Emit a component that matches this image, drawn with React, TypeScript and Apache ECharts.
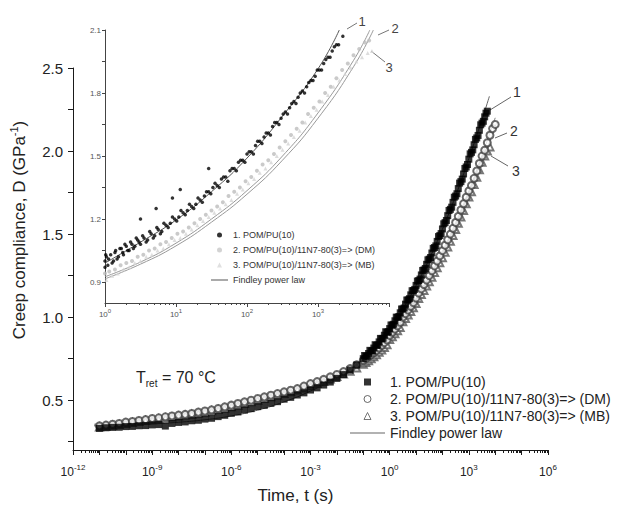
import React, { useEffect, useRef } from 'react';
import * as echarts from 'echarts';

const FONT = '"Liberation Sans", Arial, Helvetica, sans-serif';

const N1 = '1. POM/PU(10)';
const N2 = '2. POM/PU(10)/11N7-80(3)=> (DM)';
const N3 = '3. POM/PU(10)/11N7-80(3)=> (MB)';
const NF = 'Findley power law';

// ---- axis ticks / labels ----
const mainXLabelExps = [-12, -9, -6, -3, 0, 3, 6];
const mainXDecadeExps = [-12, -11, -10, -9, -8, -7, -6, -5, -4, -3, -2, -1, 0, 1, 2, 3, 4, 5, 6];
const mainYLabels = [0.5, 1.0, 1.5, 2.0, 2.5];
const mainYTicks = [0.25, 0.5, 0.75, 1.0, 1.25, 1.5, 1.75, 2.0, 2.25, 2.5];
const insetXLabelExps = [0, 1, 2, 3];
const insetXDecadeExps = [0, 1, 2, 3, 4];
const insetYLabels = [0.9, 1.2, 1.5, 1.8, 2.1];
const insetYTicks = [0.9, 1.05, 1.2, 1.35, 1.5, 1.65, 1.8, 1.95, 2.1];
const minorMultipliers = [2, 3, 4, 5, 6, 7, 8, 9];

// ---- main plot data (log10 of time in s, compliance in 1/GPa) ----
const mainLogTLow = [-11.0, -10.75, -10.5, -10.25, -10.0, -9.75, -9.5, -9.25, -9.0, -8.75, -8.5, -8.25, -8.0, -7.75, -7.5, -7.25, -7.0, -6.75, -6.5, -6.25, -6.0, -5.75, -5.5, -5.25, -5.0, -4.75, -4.5, -4.25, -4.0, -3.75, -3.5, -3.25, -3.0, -2.75, -2.5, -2.25, -2.0, -1.75, -1.5, -1.25];
const mainLogTHigh = [-1.0, -0.9, -0.8, -0.7, -0.6, -0.5, -0.4, -0.3, -0.2, -0.1, 0.0, 0.1, 0.2, 0.3, 0.4, 0.5, 0.6, 0.7, 0.8, 0.9, 1.0, 1.1, 1.2, 1.3, 1.4, 1.5, 1.6, 1.7, 1.8, 1.9, 2.0, 2.1, 2.2, 2.3, 2.4, 2.5, 2.6, 2.7, 2.8, 2.9, 3.0, 3.1, 3.2, 3.3, 3.4, 3.5, 3.6, 3.7, 3.8, 3.9, 4.0];

const main1DLow = [0.330, 0.334, 0.336, 0.337, 0.341, 0.342, 0.346, 0.347, 0.351, 0.353, 0.344, 0.360, 0.366, 0.369, 0.376, 0.379, 0.386, 0.391, 0.401, 0.409, 0.421, 0.429, 0.441, 0.449, 0.461, 0.469, 0.481, 0.491, 0.506, 0.517, 0.531, 0.544, 0.561, 0.574, 0.591, 0.609, 0.631, 0.654, 0.681, 0.712];
const main1DHigh = [0.750, 0.765, 0.781, 0.796, 0.814, 0.830, 0.851, 0.869, 0.891, 0.909, 0.931, 0.952, 0.978, 0.999, 1.026, 1.049, 1.078, 1.104, 1.134, 1.160, 1.191, 1.220, 1.254, 1.284, 1.318, 1.349, 1.386, 1.419, 1.456, 1.491, 1.531, 1.569, 1.611, 1.649, 1.691, 1.729, 1.774, 1.816, 1.862, 1.904, 1.951, 1.992, 2.038, 2.079, 2.125, 2.168, 2.206, 2.240];
// extra measured points of series 1 between the ones above (steep part)
const main1ExtraLogT = [-0.95, -0.85, -0.75, -0.65, -0.55, -0.45, -0.35, -0.25, -0.15, -0.05, 0.05, 0.15, 0.25, 0.35, 0.45, 0.55, 0.65, 0.75, 0.85, 0.95, 1.05, 1.15, 1.25, 1.35, 1.45, 1.55, 1.65, 1.75, 1.85, 1.95, 2.05, 2.15, 2.25, 2.35, 2.45, 2.55, 2.65, 2.75, 2.85, 2.95, 3.05, 3.15, 3.25, 3.35, 3.45, 3.55, 3.65];
const main1ExtraD = [0.769, 0.765, 0.800, 0.797, 0.834, 0.832, 0.872, 0.872, 0.912, 0.912, 0.953, 0.957, 1.000, 1.004, 1.049, 1.055, 1.103, 1.111, 1.159, 1.167, 1.217, 1.229, 1.281, 1.293, 1.345, 1.359, 1.414, 1.429, 1.485, 1.503, 1.562, 1.582, 1.642, 1.662, 1.722, 1.743, 1.807, 1.831, 1.895, 1.919, 1.983, 2.007, 2.070, 2.094, 2.158, 2.179, 2.228];

const main2DLow = [0.345, 0.350, 0.355, 0.360, 0.368, 0.372, 0.378, 0.383, 0.390, 0.394, 0.400, 0.405, 0.410, 0.415, 0.420, 0.428, 0.435, 0.442, 0.450, 0.460, 0.470, 0.480, 0.490, 0.500, 0.510, 0.520, 0.530, 0.540, 0.550, 0.560, 0.570, 0.585, 0.600, 0.612, 0.625, 0.640, 0.655, 0.672, 0.690, 0.713];
const main2DHigh = [0.740, 0.752, 0.763, 0.775, 0.787, 0.800, 0.815, 0.830, 0.846, 0.863, 0.890, 0.909, 0.928, 0.948, 0.969, 1.000, 1.021, 1.043, 1.065, 1.087, 1.115, 1.145, 1.170, 1.196, 1.223, 1.250, 1.279, 1.308, 1.338, 1.369, 1.400, 1.433, 1.466, 1.500, 1.535, 1.570, 1.607, 1.645, 1.683, 1.722, 1.760, 1.793, 1.836, 1.880, 1.925, 1.970, 2.005, 2.050, 2.095, 2.135, 2.160];

const main3DLow = [0.338, 0.343, 0.349, 0.354, 0.360, 0.366, 0.371, 0.377, 0.382, 0.388, 0.393, 0.399, 0.404, 0.410, 0.416, 0.422, 0.428, 0.436, 0.444, 0.452, 0.461, 0.470, 0.480, 0.490, 0.500, 0.510, 0.520, 0.530, 0.540, 0.551, 0.562, 0.574, 0.587, 0.600, 0.613, 0.627, 0.642, 0.657, 0.674, 0.694];
const main3DHigh = [0.716, 0.727, 0.738, 0.749, 0.761, 0.774, 0.788, 0.802, 0.817, 0.833, 0.865, 0.882, 0.900, 0.918, 0.937, 0.972, 0.992, 1.013, 1.034, 1.056, 1.082, 1.112, 1.136, 1.161, 1.187, 1.213, 1.240, 1.268, 1.297, 1.327, 1.358, 1.390, 1.423, 1.457, 1.492, 1.528, 1.565, 1.603, 1.642, 1.682, 1.723, 1.755, 1.798, 1.842, 1.887, 1.933, 1.970, 2.000, 2.025];

// Findley power-law fits, main plot
const fit1LogT = [-11.2, -10, -9, -8, -7, -6, -5, -4, -3, -2, -1.5, -1, -0.5, 0, 0.5, 1, 1.5, 2, 2.5, 3, 3.5, 3.78];
const fit1D = [0.345, 0.35, 0.357, 0.367, 0.382, 0.405, 0.44, 0.49, 0.555, 0.635, 0.685, 0.75, 0.83, 0.93, 1.05, 1.19, 1.35, 1.53, 1.73, 1.955, 2.19, 2.33];
const fit2LogT = [-11.2, -10, -9, -8, -7, -6, -5, -4, -3, -2, -1, -0.5, 0, 0.5, 1, 1.5, 2, 2.5, 3, 3.5, 4];
const fit2D = [0.355, 0.368, 0.385, 0.405, 0.43, 0.462, 0.5, 0.545, 0.595, 0.652, 0.737, 0.8, 0.885, 0.995, 1.11, 1.245, 1.398, 1.57, 1.76, 1.975, 2.2];
const fit3LogT = [-11.2, -10, -9, -8, -7, -6, -5, -4, -3, -2, -1, -0.5, 0, 0.5, 1, 1.5, 2, 2.5, 3, 3.5, 4.05];
const fit3D = [0.348, 0.36, 0.378, 0.4, 0.425, 0.457, 0.495, 0.538, 0.587, 0.64, 0.716, 0.775, 0.86, 0.97, 1.085, 1.213, 1.36, 1.528, 1.72, 1.93, 2.17];

// ---- inset data ----
const inset1LogT = [0, 0, 0.02, 0.04, 0.08, 0.12, 0.15, 0.19, 0.23, 0.26, 0.3, 0.34, 0.38, 0.42, 0.46, 0.5, 0.55, 0.6, 0.65, 0.7, 0.75, 0.8, 0.86, 0.92, 0.98, 1.04, 1.1, 1.16, 1.22, 1.28, 1.34, 1.4, 1.46, 1.52, 1.58, 1.64, 1.7, 1.76, 1.82, 1.88, 1.94, 2.0, 2.06, 2.12, 2.18, 2.24, 2.3, 2.36, 2.42, 2.48, 2.54, 2.6, 2.66, 2.72, 2.78, 2.84, 2.9, 2.96, 3.02, 3.08, 3.14, 3.2, 3.26, 3.35, 0.5, 0.72, 0.95, 1.06, 1.46];
const inset1D = [1.00, 0.97, 1.02, 0.98, 1.03, 1.00, 1.05, 1.02, 1.06, 1.03, 1.07, 1.05, 1.08, 1.07, 1.10, 1.08, 1.11, 1.10, 1.13, 1.12, 1.15, 1.14, 1.17, 1.18, 1.20, 1.21, 1.23, 1.24, 1.26, 1.27, 1.29, 1.31, 1.33, 1.35, 1.36, 1.39, 1.40, 1.43, 1.44, 1.47, 1.48, 1.51, 1.52, 1.55, 1.57, 1.59, 1.61, 1.64, 1.66, 1.68, 1.71, 1.73, 1.76, 1.78, 1.81, 1.83, 1.86, 1.88, 1.91, 1.94, 1.97, 2.00, 2.03, 2.07, 1.20, 1.25, 1.30, 1.34, 1.44];
const inset1ExtraLogT = [0.01, 0.05, 0.1, 0.14, 0.17, 0.21, 0.25, 0.28, 0.32, 0.36, 0.4, 0.44, 0.48, 0.53, 0.58, 0.63, 0.68, 0.73, 0.78, 0.83, 0.89, 0.95, 1.01, 1.07, 1.13, 1.19, 1.25, 1.31, 1.37, 1.43, 1.49, 1.55, 1.61, 1.67, 1.73, 1.79, 1.85, 1.91, 1.97, 2.03, 2.09, 2.15, 2.21, 2.27, 2.33, 2.39, 2.45, 2.51, 2.57, 2.63, 2.69, 2.75, 2.81, 2.87, 2.93, 2.99, 3.05, 3.11, 3.17, 3.23, 3.29];
const inset1ExtraD = [1.03, 1.01, 0.99, 1.04, 1.01, 1.06, 1.04, 1.08, 1.05, 1.09, 1.06, 1.11, 1.09, 1.12, 1.09, 1.14, 1.11, 1.16, 1.13, 1.18, 1.16, 1.21, 1.19, 1.24, 1.22, 1.27, 1.25, 1.30, 1.28, 1.33, 1.32, 1.37, 1.35, 1.40, 1.38, 1.44, 1.43, 1.48, 1.47, 1.52, 1.51, 1.57, 1.56, 1.61, 1.60, 1.66, 1.65, 1.70, 1.70, 1.75, 1.75, 1.80, 1.80, 1.85, 1.86, 1.91, 1.91, 1.96, 1.97, 2.02, 2.03];
const inset2LogT = [0.0, 0.06, 0.14, 0.22, 0.3, 0.38, 0.46, 0.54, 0.62, 0.7, 0.78, 0.86, 0.94, 1.02, 1.1, 1.18, 1.26, 1.34, 1.42, 1.5, 1.58, 1.66, 1.74, 1.82, 1.9, 1.98, 2.06, 2.14, 2.22, 2.3, 2.38, 2.46, 2.54, 2.62, 2.7, 2.78, 2.86, 2.94, 3.02, 3.1, 3.18, 3.26, 3.34, 3.42, 3.5, 3.58, 3.66, 3.72];
const inset2D = [0.94, 0.95, 0.96, 0.98, 0.99, 1.00, 1.02, 1.03, 1.05, 1.06, 1.08, 1.09, 1.11, 1.13, 1.14, 1.16, 1.18, 1.20, 1.22, 1.24, 1.26, 1.28, 1.31, 1.33, 1.35, 1.38, 1.40, 1.43, 1.46, 1.48, 1.51, 1.54, 1.57, 1.60, 1.63, 1.66, 1.70, 1.73, 1.76, 1.80, 1.83, 1.87, 1.91, 1.94, 1.98, 2.01, 2.04, 2.05];
const inset3LogT = [0.02, 0.1, 0.18, 0.26, 0.34, 0.42, 0.5, 0.58, 0.66, 0.74, 0.82, 0.9, 0.98, 1.06, 1.14, 1.22, 1.3, 1.38, 1.46, 1.54, 1.62, 1.7, 1.78, 1.86, 1.94, 2.02, 2.1, 2.18, 2.26, 2.34, 2.42, 2.5, 2.58, 2.66, 2.74, 2.82, 2.9, 2.98, 3.06, 3.14, 3.22, 3.3, 3.38, 3.46, 3.54, 3.62, 3.7, 3.76];
const inset3D = [0.91, 0.93, 0.94, 0.96, 0.97, 0.99, 1.00, 1.02, 1.03, 1.05, 1.06, 1.08, 1.10, 1.11, 1.13, 1.15, 1.17, 1.19, 1.21, 1.23, 1.25, 1.27, 1.29, 1.32, 1.34, 1.37, 1.39, 1.42, 1.44, 1.47, 1.50, 1.53, 1.56, 1.59, 1.62, 1.66, 1.69, 1.72, 1.76, 1.79, 1.83, 1.86, 1.89, 1.92, 1.95, 1.97, 1.99, 2.00];

const insetFit1LogT = [0, 0.5, 1, 1.5, 2, 2.5, 3, 3.3];
const insetFit1D = [0.99, 1.09, 1.195, 1.33, 1.49, 1.69, 1.915, 2.1];
const insetFit2LogT = [0, 0.5, 1, 1.5, 2, 2.5, 3, 3.5, 3.73];
const insetFit2D = [0.925, 0.995, 1.085, 1.2, 1.335, 1.5, 1.705, 1.955, 2.1];
const insetFit3LogT = [0, 0.5, 1, 1.5, 2, 2.5, 3, 3.5, 3.78];
const insetFit3D = [0.915, 0.985, 1.072, 1.185, 1.318, 1.48, 1.68, 1.925, 2.1];

const pow10 = (e: number) => Number(`1e${e}`) || Math.pow(10, e);
const toPts = (logT: number[], d: number[]) => d.map((v, i) => [Math.pow(10, logT[i]), v]);
const minorValues = (exps: number[]) => {
  const out: number[] = [];
  for (let i = 0; i < exps.length - 1; i++) {
    for (const k of minorMultipliers) out.push(k * pow10(exps[i]));
  }
  return out;
};
const expLabel = (v: number) => `{b|10}{s|${Math.round(Math.log10(v))}}`;

// legend icon shapes
const ICON_SQUARE = 'path://M0,0L7,0L7,7L0,7Z';
const ICON_CIRCLE = 'path://M0,3.5A3.5,3.5,0,1,0,7,3.5A3.5,3.5,0,1,0,0,3.5Z';
const ICON_TRIANGLE = 'path://M3.5,0L7,7L0,7Z';

export default function App() {
  const ref = useRef<HTMLDivElement>(null);
  useEffect(() => {
    if (!ref.current) return;
    const chart = echarts.init(ref.current, undefined, { renderer: 'svg' });
    const axisCol = '#1a1a1a';
    const txt = '#222';

    const main1 = [
      ...toPts([...mainLogTLow, ...mainLogTHigh], [...main1DLow, ...main1DHigh]),
      ...toPts(main1ExtraLogT, main1ExtraD),
    ];
    const main2 = toPts([...mainLogTLow, ...mainLogTHigh], [...main2DLow, ...main2DHigh]);
    const main3 = toPts([...mainLogTLow, ...mainLogTHigh], [...main3DLow, ...main3DHigh]);
    const inset1 = [...toPts(inset1LogT, inset1D), ...toPts(inset1ExtraLogT, inset1ExtraD)];

    const option: any = {
      animation: false,
      backgroundColor: '#fff',
      grid: [
        { left: 72, top: 68, width: 476, height: 385 },
        { left: 105, top: 30, width: 284, height: 273 },
      ],
      xAxis: [
        {
          gridIndex: 0, type: 'log', logBase: 10, min: 1e-12, max: 1e6,
          axisLine: { show: true, lineStyle: { color: axisCol, width: 1 } },
          axisTick: { show: true, customValues: mainXDecadeExps.map(pow10), length: 5, lineStyle: { color: axisCol } },
          axisLabel: {
            customValues: mainXLabelExps.map(pow10), formatter: expLabel, margin: 13, color: txt,
            rich: { b: { fontSize: 12, fontFamily: FONT, color: txt }, s: { fontSize: 8, fontFamily: FONT, color: txt, padding: [0, 0, 9, 0] } },
          },
          splitLine: { show: false },
          name: 'Time, t (s)', nameLocation: 'middle', nameGap: 37,
          nameTextStyle: { fontSize: 17, fontFamily: FONT, color: txt, padding: [0, 30, 0, 0] },
        },
        {
          gridIndex: 1, type: 'log', logBase: 10, min: 1, max: 1e4,
          axisLine: { show: true, lineStyle: { color: '#444', width: 1 } },
          axisTick: { show: true, customValues: insetXDecadeExps.map(pow10), length: 4, lineStyle: { color: '#444' } },
          axisLabel: {
            customValues: insetXLabelExps.map(pow10), formatter: expLabel, margin: 5, color: '#555',
            rich: { b: { fontSize: 8, fontFamily: FONT, color: '#555' }, s: { fontSize: 6, fontFamily: FONT, color: '#555', padding: [0, 0, 6, 0] } },
          },
          splitLine: { show: false },
        },
        {
          gridIndex: 0, type: 'log', logBase: 10, min: 1e-12, max: 1e6, position: 'bottom',
          axisLine: { show: false }, axisLabel: { show: false }, splitLine: { show: false },
          axisTick: { show: true, customValues: minorValues(mainXDecadeExps), length: 3, lineStyle: { color: axisCol } },
        },
        {
          gridIndex: 1, type: 'log', logBase: 10, min: 1, max: 1e4, position: 'bottom',
          axisLine: { show: false }, axisLabel: { show: false }, splitLine: { show: false },
          axisTick: { show: true, customValues: minorValues(insetXDecadeExps), length: 2, lineStyle: { color: '#444' } },
        },
      ],
      yAxis: [
        {
          gridIndex: 0, type: 'value', min: 0.2, max: 2.5,
          axisLine: { show: true, lineStyle: { color: axisCol, width: 1 } },
          axisTick: { show: true, customValues: mainYTicks, length: 5, lineStyle: { color: axisCol } },
          axisLabel: { customValues: mainYLabels, formatter: (v: number) => v.toFixed(1), fontSize: 15, fontFamily: FONT, color: txt, margin: 10 },
          splitLine: { show: false },
          name: 'Creep compliance, D (GPa{s|-1})', nameLocation: 'middle', nameGap: 42,
          nameTextStyle: {
            fontSize: 17, fontFamily: FONT, color: txt, padding: [0, 0, 0, 58],
            rich: { s: { fontSize: 11, fontFamily: FONT, color: txt, padding: [0, 0, 12, 0] } },
          },
        },
        {
          gridIndex: 1, type: 'value', min: 0.8, max: 2.1,
          axisLine: { show: true, lineStyle: { color: '#444', width: 1 } },
          axisTick: { show: true, customValues: insetYTicks, length: 3, lineStyle: { color: '#444' } },
          axisLabel: { customValues: insetYLabels, formatter: (v: number) => v.toFixed(1), fontSize: 8, fontFamily: FONT, color: '#555', margin: 4 },
          splitLine: { show: false },
        },
      ],
      legend: [
        {
          orient: 'vertical', left: 345, top: 370, itemWidth: 35, itemHeight: 7, itemGap: 3, selectedMode: false,
          symbolKeepAspect: true,
          textStyle: { fontSize: 14, lineHeight: 14, color: txt, fontFamily: FONT },
          data: [
            { name: N1, icon: ICON_SQUARE, itemStyle: { color: '#000', borderWidth: 0 } },
            { name: N2, icon: ICON_CIRCLE, itemStyle: { color: '#fff', borderColor: '#444', borderWidth: 1 } },
            { name: N3, icon: ICON_TRIANGLE, itemStyle: { color: '#fff', borderColor: '#555', borderWidth: 1 } },
            { name: NF, icon: 'path://M0,0L35,0L35,1L0,1Z', itemStyle: { color: '#666', borderWidth: 0 } },
          ],
        },
        {
          orient: 'vertical', left: 206, top: 225, itemWidth: 17, itemHeight: 5, itemGap: 5, selectedMode: false,
          symbolKeepAspect: true,
          textStyle: { fontSize: 9, lineHeight: 10, color: '#333', fontFamily: FONT },
          data: [
            { name: N1, icon: ICON_CIRCLE, itemStyle: { color: '#000', borderWidth: 0 } },
            { name: N2, icon: ICON_CIRCLE, itemStyle: { color: '#c8c8c8', borderWidth: 0 } },
            { name: N3, icon: ICON_TRIANGLE, itemStyle: { color: '#d8d8d8', borderWidth: 0 } },
            { name: NF, icon: 'path://M0,0L17,0L17,1L0,1Z', itemStyle: { color: '#555', borderWidth: 0 } },
          ],
        },
      ],
      series: [
        // main fits
        { name: NF, type: 'line', xAxisIndex: 0, yAxisIndex: 0, data: toPts(fit1LogT, fit1D), smooth: true, symbol: 'none', lineStyle: { color: '#666', width: 1 }, itemStyle: { color: '#666' }, z: 1, silent: true },
        { name: NF, type: 'line', xAxisIndex: 0, yAxisIndex: 0, data: toPts(fit2LogT, fit2D), smooth: true, symbol: 'none', lineStyle: { color: '#777', width: 1 }, itemStyle: { color: '#777' }, z: 1, silent: true },
        { name: NF, type: 'line', xAxisIndex: 0, yAxisIndex: 0, data: toPts(fit3LogT, fit3D), smooth: true, symbol: 'none', lineStyle: { color: '#777', width: 1 }, itemStyle: { color: '#777' }, z: 1, silent: true },
        // main data
        { name: N3, type: 'scatter', xAxisIndex: 0, yAxisIndex: 0, data: main3, symbol: 'emptyTriangle', symbolSize: 7, itemStyle: { color: '#555', borderWidth: 1 }, z: 2, silent: true },
        { name: N2, type: 'scatter', xAxisIndex: 0, yAxisIndex: 0, data: main2, symbol: 'emptyCircle', symbolSize: 7, itemStyle: { color: '#444', borderWidth: 1 }, z: 3, silent: true },
        { name: N1, type: 'scatter', xAxisIndex: 0, yAxisIndex: 0, data: main1, symbol: 'rect', symbolSize: 7, itemStyle: { color: '#000' }, z: 4, silent: true },
        // inset fits
        { name: NF, type: 'line', xAxisIndex: 1, yAxisIndex: 1, data: toPts(insetFit1LogT, insetFit1D), smooth: true, symbol: 'none', lineStyle: { color: '#555', width: 1 }, z: 1, silent: true },
        { name: NF, type: 'line', xAxisIndex: 1, yAxisIndex: 1, data: toPts(insetFit2LogT, insetFit2D), smooth: true, symbol: 'none', lineStyle: { color: '#999', width: 1 }, z: 1, silent: true },
        { name: NF, type: 'line', xAxisIndex: 1, yAxisIndex: 1, data: toPts(insetFit3LogT, insetFit3D), smooth: true, symbol: 'none', lineStyle: { color: '#999', width: 1 }, z: 1, silent: true },
        // inset data
        { name: N3, type: 'scatter', xAxisIndex: 1, yAxisIndex: 1, data: toPts(inset3LogT, inset3D), symbol: 'triangle', symbolSize: 4, itemStyle: { color: '#d4d4d4' }, z: 2, silent: true },
        { name: N2, type: 'scatter', xAxisIndex: 1, yAxisIndex: 1, data: toPts(inset2LogT, inset2D), symbol: 'circle', symbolSize: 4, itemStyle: { color: '#bdbdbd' }, z: 3, silent: true },
        { name: N1, type: 'scatter', xAxisIndex: 1, yAxisIndex: 1, data: inset1, symbol: 'circle', symbolSize: 3.5, itemStyle: { color: '#000' }, z: 4, silent: true },
      ],
      graphic: [
        {
          type: 'text', x: 136, y: 377, silent: true,
          style: {
            text: 'T{s|ret} = 70 °C', fontSize: 16, fontFamily: FONT, fill: txt, verticalAlign: 'middle',
            rich: { s: { fontSize: 10, fontFamily: FONT, fill: txt, padding: [12, 0, 0, 0] } },
          },
        },
        { type: 'text', x: 517, y: 92, silent: true, style: { text: '1', fontSize: 14, fontFamily: FONT, fill: '#333', align: 'center', verticalAlign: 'middle' } },
        { type: 'text', x: 514, y: 131, silent: true, style: { text: '2', fontSize: 14, fontFamily: FONT, fill: '#333', align: 'center', verticalAlign: 'middle' } },
        { type: 'text', x: 516, y: 171, silent: true, style: { text: '3', fontSize: 14, fontFamily: FONT, fill: '#333', align: 'center', verticalAlign: 'middle' } },
        { type: 'line', silent: true, shape: { x1: 511, y1: 97, x2: 490, y2: 110 }, style: { stroke: '#666', lineWidth: 1 } },
        { type: 'line', silent: true, shape: { x1: 507, y1: 133, x2: 495, y2: 138 }, style: { stroke: '#666', lineWidth: 1 } },
        { type: 'line', silent: true, shape: { x1: 508, y1: 166, x2: 491, y2: 156 }, style: { stroke: '#666', lineWidth: 1 } },
        { type: 'text', x: 362, y: 21, silent: true, style: { text: '1', fontSize: 13, fontFamily: FONT, fill: '#444', align: 'center', verticalAlign: 'middle' } },
        { type: 'text', x: 395, y: 28, silent: true, style: { text: '2', fontSize: 13, fontFamily: FONT, fill: '#444', align: 'center', verticalAlign: 'middle' } },
        { type: 'text', x: 389, y: 67, silent: true, style: { text: '3', fontSize: 13, fontFamily: FONT, fill: '#444', align: 'center', verticalAlign: 'middle' } },
        { type: 'line', silent: true, shape: { x1: 357, y1: 23, x2: 347, y2: 29 }, style: { stroke: '#777', lineWidth: 1 } },
        { type: 'line', silent: true, shape: { x1: 389, y1: 30, x2: 378, y2: 35 }, style: { stroke: '#777', lineWidth: 1 } },
        { type: 'line', silent: true, shape: { x1: 385, y1: 62, x2: 371, y2: 51 }, style: { stroke: '#777', lineWidth: 1 } },
      ],
    };
    chart.setOption(option);
    return () => chart.dispose();
  }, []);
  return <div ref={ref} style={{ width: 640, height: 509, position: 'absolute', left: 0, top: 0 }} />;
}
